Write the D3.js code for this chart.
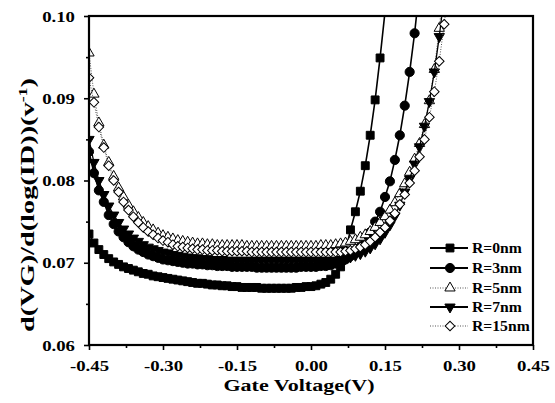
<!DOCTYPE html>
<html><head><meta charset="utf-8">
<script src="https://cdn.jsdelivr.net/npm/d3@7"></script>
<style>body{margin:0;background:#fff}svg{display:block}
svg text{font-family:"Liberation Serif","Times New Roman",serif;font-weight:bold;fill:#000}</style>
</head><body><svg id="c" width="555" height="403"></svg>
<script>
// ---- data ----
const voltage = [-0.45,-0.44,-0.43,-0.42,-0.41,-0.40,-0.39,-0.38,-0.37,-0.36,-0.35,-0.34,-0.33,-0.32,-0.31,-0.30,-0.29,-0.28,-0.27,-0.26,-0.25,-0.24,-0.23,-0.22,-0.21,-0.20,-0.19,-0.18,-0.17,-0.16,-0.15,-0.14,-0.13,-0.12,-0.11,-0.10,-0.09,-0.08,-0.07,-0.06,-0.05,-0.04,-0.03,-0.02,-0.01,0.00,0.01,0.02,0.03,0.04,0.05,0.06,0.07,0.08,0.09,0.10,0.11,0.12,0.13,0.14,0.15,0.16,0.17,0.18,0.19,0.20,0.21,0.22,0.23,0.24,0.25,0.26,0.27,0.28];

const r0nm = [0.0735,0.0724,0.0716,0.0710,0.0705,0.0701,0.0698,0.0695,0.0693,0.0691,0.0689,0.0687,0.0686,0.0684,0.0683,0.0682,0.0681,0.0680,0.0679,0.0678,0.0677,0.0676,0.0675,0.0675,0.0674,0.0673,0.0673,0.0672,0.0672,0.0671,0.0671,0.0670,0.0670,0.0670,0.0670,0.0669,0.0669,0.0669,0.0669,0.0669,0.0669,0.0669,0.0670,0.0670,0.0671,0.0671,0.0672,0.0674,0.0676,0.0680,0.0686,0.0695,0.0714,0.0740,0.0762,0.0787,0.0818,0.0855,0.0898,0.0949,0.1005];

const r3nm = [0.0835,0.0809,0.0788,0.0774,0.0758,0.0747,0.0738,0.0731,0.0725,0.0720,0.0716,0.0713,0.0710,0.0708,0.0706,0.0704,0.0703,0.0702,0.0701,0.0700,0.0699,0.0699,0.0698,0.0698,0.0697,0.0697,0.0696,0.0696,0.0696,0.0695,0.0695,0.0695,0.0695,0.0695,0.0694,0.0694,0.0694,0.0694,0.0694,0.0694,0.0694,0.0694,0.0694,0.0695,0.0695,0.0695,0.0695,0.0696,0.0696,0.0697,0.0699,0.0701,0.0704,0.0708,0.0713,0.0719,0.0727,0.0737,0.0750,0.0762,0.0780,0.0799,0.0825,0.0855,0.0891,0.0932,0.0979,0.1035];

const r5nm = [0.0955,0.0905,0.0870,0.0843,0.0822,0.0805,0.0791,0.0780,0.0770,0.0762,0.0755,0.0749,0.0744,0.0740,0.0736,0.0733,0.0731,0.0729,0.0727,0.0726,0.0725,0.0724,0.0723,0.0723,0.0722,0.0722,0.0721,0.0721,0.0721,0.0721,0.0721,0.0721,0.0720,0.0720,0.0720,0.0720,0.0720,0.0720,0.0720,0.0720,0.0720,0.0720,0.0720,0.0720,0.0720,0.0720,0.0720,0.0721,0.0721,0.0721,0.0722,0.0723,0.0724,0.0726,0.0728,0.0731,0.0734,0.0738,0.0743,0.0749,0.0756,0.0764,0.0773,0.0784,0.0796,0.0810,0.0826,0.0845,0.0868,0.0897,0.0935,0.0985,0.1045];

const r7nm = [0.0850,0.0822,0.0800,0.0783,0.0769,0.0758,0.0749,0.0741,0.0735,0.0730,0.0726,0.0722,0.0719,0.0717,0.0715,0.0713,0.0712,0.0710,0.0709,0.0708,0.0707,0.0706,0.0706,0.0705,0.0705,0.0704,0.0704,0.0704,0.0703,0.0703,0.0703,0.0703,0.0703,0.0703,0.0703,0.0703,0.0703,0.0703,0.0703,0.0703,0.0703,0.0703,0.0703,0.0703,0.0703,0.0703,0.0703,0.0703,0.0703,0.0703,0.0703,0.0704,0.0705,0.0707,0.0709,0.0711,0.0714,0.0718,0.0723,0.0729,0.0737,0.0746,0.0757,0.0770,0.0786,0.0802,0.0820,0.0841,0.0866,0.0896,0.0932,0.0975,0.1025];

const r15nm = [0.0925,0.0895,0.0865,0.0840,0.0818,0.0800,0.0786,0.0774,0.0764,0.0756,0.0749,0.0743,0.0738,0.0734,0.0730,0.0727,0.0725,0.0722,0.0720,0.0719,0.0718,0.0717,0.0716,0.0716,0.0715,0.0715,0.0715,0.0714,0.0714,0.0714,0.0714,0.0714,0.0714,0.0713,0.0713,0.0713,0.0713,0.0713,0.0713,0.0713,0.0713,0.0713,0.0713,0.0713,0.0713,0.0713,0.0713,0.0713,0.0713,0.0713,0.0713,0.0713,0.0714,0.0715,0.0717,0.0719,0.0722,0.0726,0.0731,0.0737,0.0743,0.0751,0.0760,0.0771,0.0783,0.0797,0.0812,0.0829,0.0850,0.0877,0.0908,0.0945,0.0990,0.1040];

const seriesNames = ["R=0nm","R=3nm","R=5nm","R=7nm","R=15nm"];
const seriesValues = [r0nm, r3nm, r5nm, r7nm, r15nm];
const xTicks = [-0.45,-0.30,-0.15,0.00,0.15,0.30,0.45];
const xMinorTicks = [-0.375,-0.225,-0.075,0.075,0.225,0.375];
const yTicks = [0.06,0.07,0.08,0.09,0.10];
const yMinorTicks = [0.065,0.075,0.085,0.095];
const xTitle = "Gate Voltage(V)";

// ---- styles ----
const styles = [
  {sym:"square",  fill:"#000", size:62, lw:1.6, dash:null},
  {sym:"circle",  fill:"#000", size:66, lw:1.6, dash:null},
  {sym:"triUp",   fill:"#fff", size:46, lw:1.0, dash:"1,1.5"},
  {sym:"triDown", fill:"#000", size:46, lw:1.3, dash:null},
  {sym:"diamond", fill:"#fff", size:46, lw:1.0, dash:"1,1.5"}
];

const svg = d3.select("#c");
const L=89, R=533, T=16, B=345;
const x = d3.scaleLinear().domain([-0.45,0.45]).range([L,R]);
const y = d3.scaleLinear().domain([0.06,0.10]).range([B,T]);

svg.append("defs").append("clipPath").attr("id","clip")
  .append("rect").attr("x",L).attr("y",T).attr("width",R-L).attr("height",B-T);

function symPath(s, size){
  if(s==="square") return d3.symbol(d3.symbolSquare, size)();
  if(s==="circle") return d3.symbol(d3.symbolCircle, size)();
  if(s==="triUp"||s==="triDown") return d3.symbol(d3.symbolTriangle, size)();
  if(s==="diamond") return d3.symbol(d3.symbolSquare, size)();
}
function symRot(s){ return s==="triDown"?180:(s==="diamond"?45:0); }

const plot = svg.append("g").attr("clip-path","url(#clip)");
const line = d3.line().x(d=>x(d[0])).y(d=>y(d[1]));

seriesValues.forEach((vals,k)=>{
  const st = styles[k];
  const pts = vals.map((v,i)=>[voltage[i], v]);
  const g = plot.append("g");
  g.append("path").datum(pts).attr("d",line).attr("fill","none")
    .attr("stroke", st.dash ? "#555" : "#000").attr("stroke-width",st.lw)
    .attr("stroke-dasharray",st.dash);
  g.selectAll("path.m").data(pts).join("path").attr("class","m")
    .attr("d",symPath(st.sym, st.size))
    .attr("transform",d=>`translate(${x(d[0])},${y(d[1])}) rotate(${symRot(st.sym)})`)
    .attr("fill",st.fill).attr("stroke","#000").attr("stroke-width",1);
});

// ---- axes ----
const fmt = d => d.toFixed(2);
const xAxis = svg.append("g").attr("transform",`translate(0,${B})`)
  .call(d3.axisBottom(x).tickValues(xTicks).tickSize(5).tickFormat(fmt));
svg.append("g").attr("transform",`translate(0,${B})`)
  .call(d3.axisBottom(x).tickValues(xMinorTicks).tickSize(3).tickFormat(""));
const yAxis = svg.append("g").attr("transform",`translate(${L},0)`)
  .call(d3.axisLeft(y).tickValues(yTicks).tickSize(5).tickFormat(fmt));
svg.append("g").attr("transform",`translate(${L},0)`)
  .call(d3.axisLeft(y).tickValues(yMinorTicks).tickSize(3).tickFormat(""));

svg.selectAll(".domain").remove();
svg.selectAll(".tick line").attr("stroke","#000").attr("stroke-width",1.6);
svg.selectAll("g").attr("font-family",null);

xAxis.selectAll(".tick text")
  .attr("y",0).attr("dy",0)
  .attr("transform","translate(0,371) scale(1.25,1)".replace("371","26"))
  .attr("font-size",15);
yAxis.selectAll(".tick text")
  .attr("x",0).attr("dy",0)
  .attr("transform","translate(-14,5) scale(1.25,1)")
  .attr("font-size",15);

// frame
svg.append("rect").attr("x",L).attr("y",T).attr("width",R-L).attr("height",B-T)
  .attr("fill","none").attr("stroke","#000").attr("stroke-width",2.2);

// titles
svg.append("text").attr("transform","translate(299,391) scale(1.26,1)")
  .attr("text-anchor","middle").attr("font-size",17.5).text(xTitle);

const yt = svg.append("text").attr("transform","translate(34,205) rotate(-90)")
  .attr("text-anchor","middle").attr("font-size",19)
  .attr("textLength",254).attr("lengthAdjust","spacingAndGlyphs");
yt.append("tspan").text("d(VG)/d(log(ID))(v");
yt.append("tspan").attr("dy",-7).attr("font-size",12).text("-1");
yt.append("tspan").attr("dy",7).text(")");

// legend
const legY = [248,268,288,307,326];
const leg = svg.append("g");
seriesNames.forEach((nm,k)=>{
  const st = styles[k];
  const gy = legY[k];
  leg.append("line").attr("x1",430).attr("x2",468).attr("y1",gy).attr("y2",gy)
    .attr("stroke", st.dash ? "#555" : "#000").attr("stroke-width", st.dash?1.2:2)
    .attr("stroke-dasharray", st.dash);
  leg.append("path").attr("d",symPath(st.sym, st.size))
    .attr("transform",`translate(450,${gy}) rotate(${symRot(st.sym)})`)
    .attr("fill",st.fill).attr("stroke","#000").attr("stroke-width",1);
  leg.append("text").attr("transform",`translate(472,${gy+5}) scale(1.12,1)`)
    .attr("font-size",14).text(nm);
});
</script></body></html>
